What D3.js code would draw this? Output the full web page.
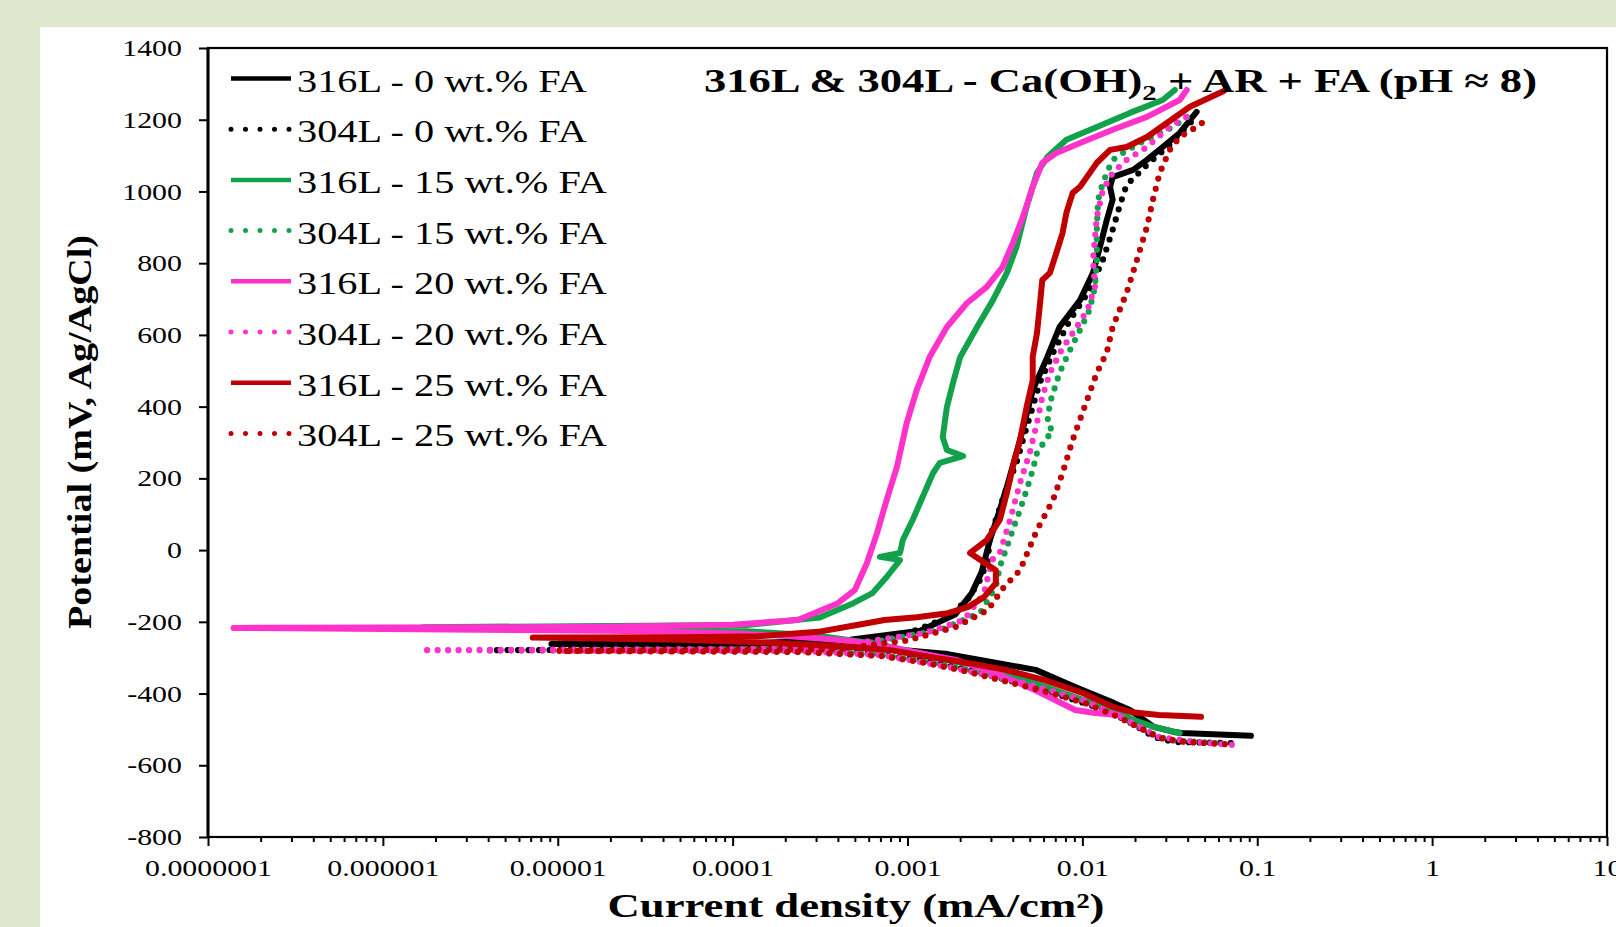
<!DOCTYPE html>
<html><head><meta charset="utf-8">
<script src="https://cdn.jsdelivr.net/npm/d3@7"></script>
<style>
body{margin:0;background:#fff}
svg{display:block}
text{font-family:"Liberation Serif","Times New Roman",serif;fill:#000}
</style>
</head><body>
<svg id="chart" width="1616" height="927"></svg>
<script>
// ---------- tick values / labels ----------
const xTickValues = [1e-7, 1e-6, 1e-5, 1e-4, 1e-3, 1e-2, 1e-1, 1, 10];
const xTickLabels = ["0.0000001", "0.000001", "0.00001", "0.0001", "0.001", "0.01", "0.1", "1", "10"];
const yTickValues = [1400, 1200, 1000, 800, 600, 400, 200, 0, -200, -400, -600, -800];
const yTickLabels = ["1400", "1200", "1000", "800", "600", "400", "200", "0", "-200", "-400", "-600", "-800"];

const chartTitle = "316L & 304L - Ca(OH)";
const chartTitleSub = "2";
const chartTitleEnd = " + AR + FA (pH ≈ 8)";
const xTitle = "Current density (mA/cm²)";
const yTitle = "Potential (mV, Ag/AgCl)";

const seriesNames = ["316L - 0 wt.% FA", "304L - 0 wt.% FA", "316L - 15 wt.% FA", "304L - 15 wt.% FA",
                     "316L - 20 wt.% FA", "304L - 20 wt.% FA", "316L - 25 wt.% FA", "304L - 25 wt.% FA"];

// ---------- data: [current density (mA/cm2), potential (mV)] ----------
const s316L_0 = [[0.092,-518],[0.037,-510],[0.0333,-507],[0.0256,-493],[0.0187,-446],[0.0151,-426],[0.0091,-382],
  [0.0054,-334],[0.0026,-306],[0.0017,-290],[0.0008,-276],[0.0004,-269],[0.00012,-264],[9.2e-6,-262],
  [1.4e-4,-259],[4.7e-4,-250],[1.18e-3,-225],[1.87e-3,-180],[2.33e-3,-120],[2.66e-3,-60],[2.96e-3,28],
  [3.37e-3,112],[3.7e-3,176],[4.4e-3,307],[5.2e-3,446],[6.3e-3,538],[7.4e-3,622],[9.7e-3,697],[0.0115,773],
  [0.0126,845],[0.0138,921],[0.0149,977],[0.0144,1013],[0.0149,1040],[0.0195,1060],[0.0234,1088],[0.0288,1124],
  [0.036,1163],[0.045,1222]];

const s304L_0 = [[0.0706,-538],[0.0333,-535],[0.0256,-521],[0.0207,-493],[0.0177,-474],[0.0136,-446],[0.00906,-418],
  [0.00535,-382],[0.0032,-354],[0.00189,-326],[0.00113,-306],[0.00061,-287],[0.00024,-279],[4e-6,-279],
  [2e-4,-277],[6.7e-4,-251],[1.13e-3,-223],[1.7e-3,-187],[2.2e-3,-139],[2.6e-3,-83],[2.88e-3,-28],[2.96e-3,37],
  [3.24e-3,92],[3.7e-3,176],[4.2e-3,243],[4.57e-3,307],[5.2e-3,399],[5.7e-3,466],[6.8e-3,550],[8.5e-3,642],
  [0.011,725],[0.0131,809],[0.0149,893],[0.0164,962],[0.0179,1018],[0.0234,1074],[0.0316,1130],[0.044,1205]];

const s316L_15 = [[0.036,-510],[0.0256,-493],[0.0197,-474],[0.0151,-446],[0.00906,-410],[0.00535,-371],[0.0032,-334],
  [0.00145,-298],[0.00067,-262],[0.0003,-238],[0.0001,-224],[1.7e-6,-215],[1.2e-4,-209],[3.15e-4,-188],
  [4.9e-4,-148],[6.3e-4,-120],[7.6e-4,-75],[9.06e-4,-28],[6.95e-4,-19],[9.06e-4,-8],[9.4e-4,28],[1.07e-3,84],
  [1.22e-3,148],[1.4e-3,215],[1.53e-3,243],[2.08e-3,262],[1.68e-3,279],[1.59e-3,315],[1.68e-3,399],[1.82e-3,466],
  [2.0e-3,538],[2.5e-3,622],[3.08e-3,697],[3.7e-3,773],[4.2e-3,845],[4.8e-3,957],[5.5e-3,1052],[6.3e-3,1096],
  [8.1e-3,1144],[0.0121,1180],[0.0187,1219],[0.0288,1255],[0.0338,1283]];

const s304L_15 = [[0.0573,-538],[0.0316,-530],[0.0243,-510],[0.0187,-479],[0.0144,-451],[0.0097,-418],[0.0057,-384],
  [0.00337,-357],[0.002,-329],[0.00118,-309],[0.0007,-292],[0.00024,-281],[1.5e-5,-280],[4e-4,-274],
  [1.53e-3,-223],[2.6e-3,-175],[3.2e-3,-103],[3.37e-3,-47],[3.7e-3,9],[4.0e-3,56],[4.4e-3,112],[4.8e-3,168],
  [5.2e-3,223],[5.5e-3,271],[6.3e-3,315],[6.8e-3,329],[6.3e-3,354],[6.52e-3,410],[7.4e-3,494],[8.5e-3,558],
  [9.7e-3,614],[0.011,670],[0.0118,734],[0.0121,809],[0.0121,901],[0.0123,976],[0.0129,1013],[0.0138,1052],
  [0.0149,1088],[0.017,1107],[0.0213,1135],[0.0253,1152],[0.0329,1180],[0.0429,1219]];

const s316L_20 = [[0.016,-460],[0.0118,-454],[0.0091,-446],[0.00697,-418],[0.00535,-390],[0.0032,-343],[0.00189,-306],
  [0.000906,-276],[0.000469,-253],[0.000213,-240],[0.000097,-232],[0.00002,-225],[1.4e-7,-217],[2e-5,-214],
  [1e-4,-208],[2.36e-4,-195],[4.0e-4,-148],[5.0e-4,-111],[5.86e-4,-36],[6.7e-4,48],[7.6e-4,140],[8.7e-4,232],
  [9.9e-4,355],[1.13e-3,447],[1.34e-3,539],[1.68e-3,622],[2.19e-3,689],[2.84e-3,734],[3.5e-3,790],[4.0e-3,856],
  [4.57e-3,929],[5.2e-3,1013],[5.9e-3,1080],[7.1e-3,1107],[9.7e-3,1135],[0.0149,1172],[0.0234,1208],[0.036,1255],
  [0.0395,1283]];

const s304L_20 = [[0.0716,-543],[0.045,-535],[0.0274,-521],[0.0213,-493],[0.0166,-465],[0.01,-418],[0.00469,-371],
  [0.00173,-326],[0.0007,-292],[0.00024,-281],[1.67e-6,-279],[3e-4,-275],[1.26e-3,-231],[2.1e-3,-195],
  [2.74e-3,-120],[3.04e-3,-28],[3.37e-3,-8],[3.86e-3,84],[4.4e-3,187],[5.0e-3,271],[5.5e-3,355],[5.9e-3,427],
  [6.52e-3,494],[7.6e-3,558],[9.06e-3,614],[0.0107,670],[0.0118,734],[0.0115,809],[0.0121,929],[0.0131,1004],
  [0.0149,1052],[0.0179,1088],[0.0234,1124],[0.0316,1180],[0.0395,1208]];

const s316L_25 = [[0.0477,-465],[0.0274,-460],[0.0192,-452],[0.0151,-438],[0.01,-398],[0.00603,-362],[0.00366,-334],
  [0.00221,-315],[0.00134,-298],[0.0008,-279],[0.00049,-270],[0.000179,-259],[0.00005,-250],[7.2e-6,-244],
  [5e-5,-243],[1.41e-4,-240],[3.08e-4,-228],[5.14e-4,-209],[7.4e-4,-195],[1.13e-3,-187],[1.7e-3,-176],
  [2.21e-3,-159],[2.74e-3,-131],[3.2e-3,-92],[3.2e-3,-56],[2.77e-3,-36],[2.28e-3,-8],[2.84e-3,28],[3.37e-3,84],
  [3.7e-3,159],[4.0e-3,232],[4.4e-3,307],[4.8e-3,399],[5.2e-3,474],[5.2e-3,539],[5.5e-3,605],[5.7e-3,678],
  [5.9e-3,753],[6.52e-3,773],[7.1e-3,829],[7.7e-3,884],[8.1e-3,940],[8.8e-3,996],[9.7e-3,1013],[0.0106,1040],
  [0.0121,1080],[0.0144,1116],[0.0179,1124],[0.0234,1152],[0.0304,1191],[0.0412,1236],[0.0644,1280]];

const s304L_25 = [[0.0653,-541],[0.0386,-535],[0.0277,-524],[0.0213,-496],[0.016,-465],[0.0103,-426],[0.0057,-390],
  [0.00337,-362],[0.002,-334],[0.00118,-312],[0.0007,-295],[0.00024,-284],[1e-5,-281],[4e-4,-276],[1.0e-3,-252],
  [1.89e-3,-214],[2.88e-3,-167],[3.56e-3,-103],[4.4e-3,-56],[5.5e-3,56],[6.8e-3,140],[7.7e-3,215],[8.8e-3,307],
  [0.01,382],[0.011,438],[0.0121,494],[0.0138,552],[0.0149,622],[0.0179,717],[0.0205,809],[0.0234,901],
  [0.0253,976],[0.0277,1052],[0.0316,1116],[0.036,1152],[0.045,1180],[0.0528,1205]];

const seriesData = [s316L_0, s304L_0, s316L_15, s304L_15, s316L_20, s304L_20, s316L_25, s304L_25];

// ---------- styles ----------
const seriesColors = ["#000000", "#000000", "#12a24c", "#12a24c", "#ff33cc", "#ff33cc", "#c00000", "#c00000"];
const seriesDotted = [false, true, false, true, false, true, false, true];

// ---------- layout ----------
const W = 1616, H = 927;
const m = {left: 208, right: 1607, top: 48, bottom: 837};
const svg = d3.select("#chart");

svg.append("rect").attr("x",0).attr("y",0).attr("width",W).attr("height",H).attr("fill","#dfe8cc");
svg.append("rect").attr("x",40).attr("y",27).attr("width",W-40).attr("height",H-27).attr("fill","#ffffff");

const x = d3.scaleLog().domain([1e-7, 10]).range([m.left, m.right]);
const y = d3.scaleLinear().domain([-800, 1400]).range([m.bottom, m.top]);

// minor x ticks
const minorVals = [];
for (let e = -7; e < 1; e++) for (let k = 2; k <= 9; k++) minorVals.push(k * Math.pow(10, e));

const gxMinor = svg.append("g").attr("transform", `translate(0,${m.bottom})`)
  .call(d3.axisBottom(x).tickValues(minorVals).tickSize(5).tickFormat(""));
gxMinor.select(".domain").remove();
gxMinor.selectAll("line").attr("stroke","#000").attr("stroke-width",2);

const gx = svg.append("g").attr("transform", `translate(0,${m.bottom})`)
  .call(d3.axisBottom(x).tickValues(xTickValues).tickSize(9).tickFormat((d,i)=>xTickLabels[i]));
gx.select(".domain").remove();
gx.selectAll("line").attr("stroke","#000").attr("stroke-width",2);
gx.selectAll("text").attr("y",0).attr("dy",null)
  .attr("transform","translate(0,38.5) scale(1.3,1)")
  .style("font-size","23px").style("font-family",'"Liberation Serif",serif').attr("fill","#111");

const gy = svg.append("g").attr("transform", `translate(${m.left},0)`)
  .call(d3.axisLeft(y).tickValues(yTickValues).tickSize(9).tickFormat((d,i)=>yTickLabels[i]));
gy.select(".domain").remove();
gy.selectAll("line").attr("stroke","#000").attr("stroke-width",2);
gy.selectAll("text").attr("x",0).attr("dy","0.33em")
  .attr("transform","translate(-26,0) scale(1.3,1)")
  .style("font-size","23px").style("font-family",'"Liberation Serif",serif').attr("fill","#111");

// frame
svg.append("rect").attr("x",m.left).attr("y",m.top).attr("width",m.right-m.left).attr("height",m.bottom-m.top)
  .attr("fill","none").attr("stroke","#000").attr("stroke-width",2.2);
svg.append("line").attr("x1",m.left).attr("x2",m.left).attr("y1",m.top).attr("y2",m.bottom)
  .attr("stroke","#000").attr("stroke-width",3);

// series
const line = d3.line().x(d => x(d[0])).y(d => y(d[1]));
const gs = svg.append("g");
seriesData.forEach((data, i) => {
  const p = gs.append("path").attr("d", line(data)).attr("fill","none")
    .attr("stroke", seriesColors[i]).attr("stroke-linejoin","round");
  if (seriesDotted[i]) {
    p.attr("stroke-width",6.2).attr("stroke-dasharray","0 10.5").attr("stroke-linecap","round");
  } else {
    p.attr("stroke-width",6).attr("stroke-linecap","round");
  }
});

// legend
const gl = svg.append("g");
seriesNames.forEach((name, i) => {
  const ly = 78.5 + 50.7 * i;
  const ln = gl.append("line").attr("x1",231).attr("x2",291).attr("y1",ly).attr("y2",ly)
    .attr("stroke", seriesColors[i]);
  if (seriesDotted[i]) ln.attr("stroke-width",5).attr("stroke-dasharray","0 14.5").attr("stroke-linecap","round");
  else ln.attr("stroke-width",4.5);
  gl.append("text").attr("transform",`translate(297,${ly+13}) scale(1.3,1)`)
    .style("font-size","31px").attr("fill","#111").text(name);
});

// title
const t = svg.append("text").attr("x",704).attr("y",92)
  .attr("textLength",833).attr("lengthAdjust","spacingAndGlyphs")
  .style("font-size","34px").style("font-weight","bold");
t.append("tspan").text(chartTitle);
t.append("tspan").attr("dy",8).style("font-size","22px").text(chartTitleSub);
t.append("tspan").attr("dy",-8).text(chartTitleEnd);

// axis titles
svg.append("text").attr("x",856).attr("y",917).attr("text-anchor","middle")
  .attr("textLength",497).attr("lengthAdjust","spacingAndGlyphs")
  .style("font-size","34px").style("font-weight","bold").text(xTitle);

svg.append("text").attr("transform","translate(91,432) rotate(-90)").attr("text-anchor","middle")
  .attr("textLength",394).attr("lengthAdjust","spacingAndGlyphs")
  .style("font-size","34px").style("font-weight","bold").text(yTitle);
</script>
</body></html>
